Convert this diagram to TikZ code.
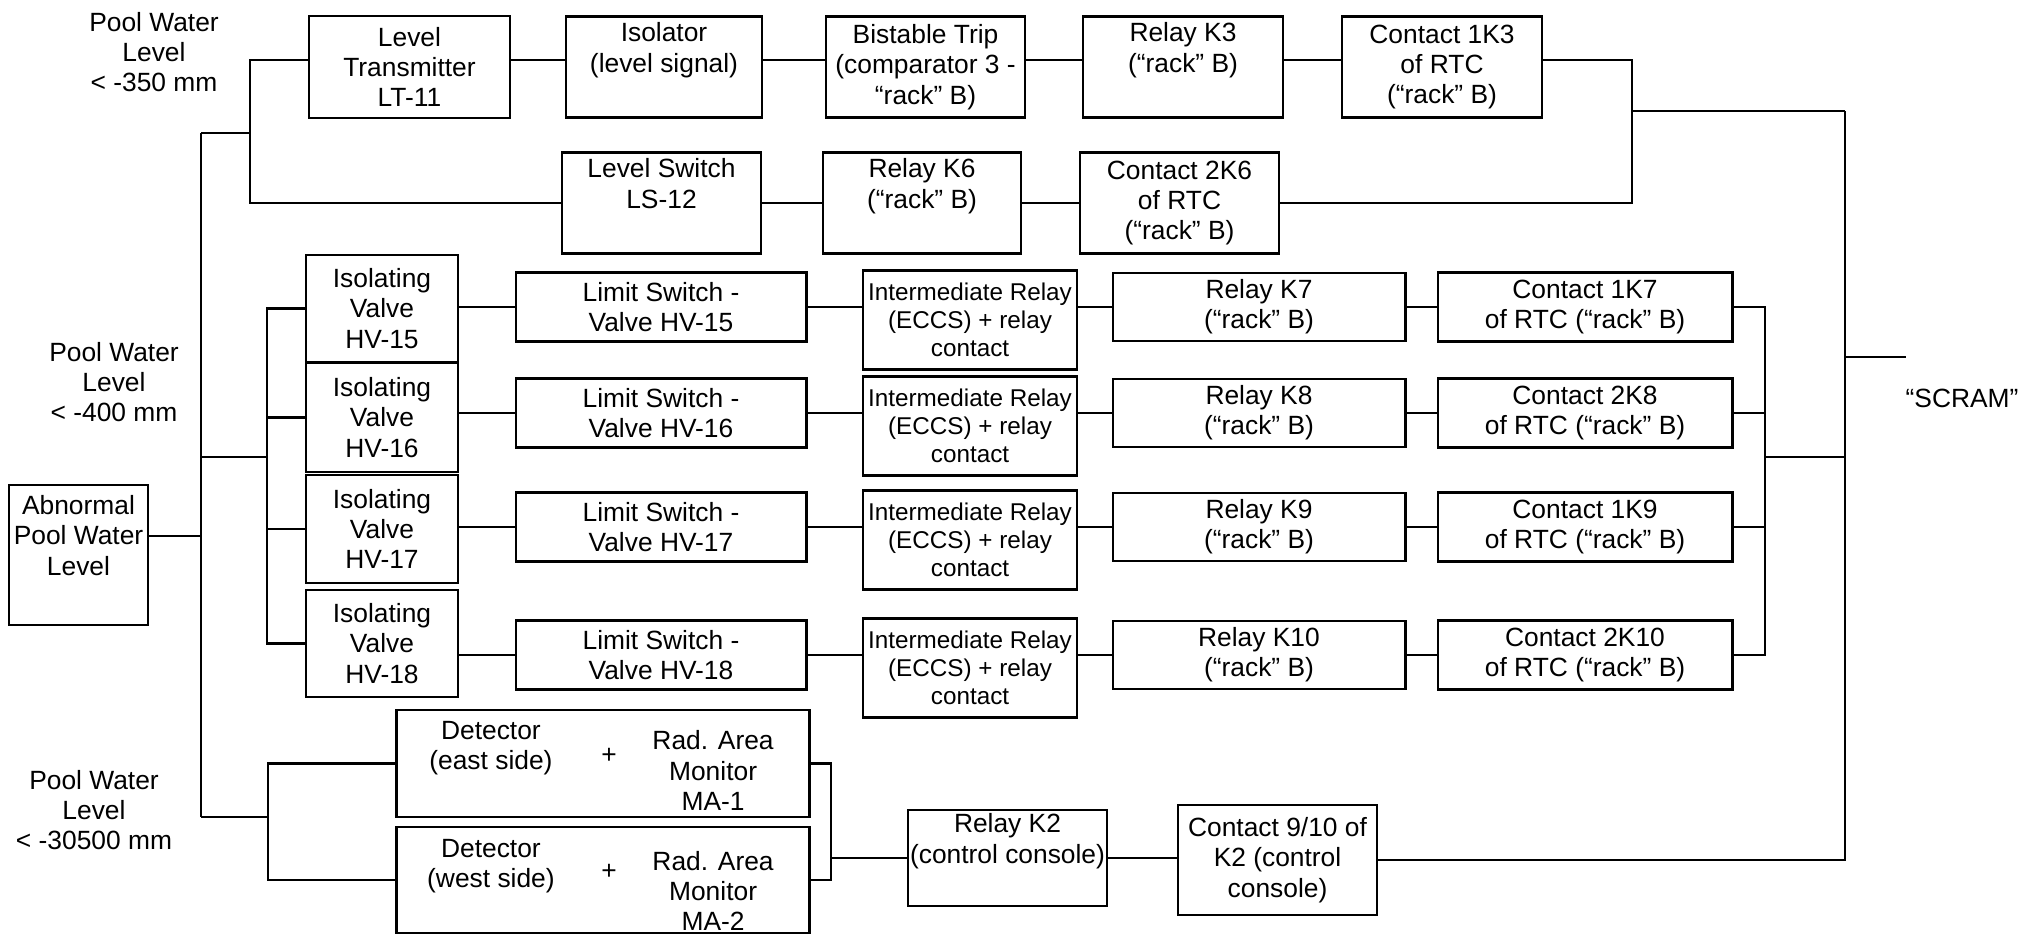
\documentclass[tikz,border=0pt]{standalone}
\usepackage{fontspec}
\setmainfont{Liberation Sans}
\newcommand{\bodyfont}{\fontsize{7.5}{8.6}\selectfont}
\newcommand{\irfont}{\fontsize{6.9}{8}\selectfont}
\tikzset{
  blk/.style={rectangle, draw, line width=0.8pt, align=center, font=\bodyfont, inner sep=0.5pt},
  wh/.style 2 args={minimum width=#1mm, minimum height=#2mm},
  lbl/.style={align=center, font=\bodyfont, inner sep=0pt},
  wire/.style={line width=0.8pt},
}

\begin{document}
\begin{tikzpicture}[x=0.01cm, y=-0.01cm]
        \useasboundingbox (0,0) rectangle (2037,936);
        \node[lbl](lvla) at (154,52){Pool Water\\Level\\< -350 mm};
        \node[lbl](lvlb) at (114,382){Pool Water\\Level\\< -400 mm};
        \node[lbl](lvlc) at (94,810){Pool Water\\Level\\< -30500 mm};
        \node[lbl](scram) at (1962,398){“SCRAM”};

        \node[blk, wh={20.1}{10.2}](lt) at (409.5,67){Level\\Transmitter\\LT-11};
        \node[blk, wh={19.6}{10.1}](iso) at (664,67){Isolator\\(level signal)\\\strut};
        \node[blk, wh={19.9}{10.1}](bis) at (925.5,67){Bistable Trip\\(comparator 3 -\\“rack” B)};
        \node[blk, wh={20}{10.1}](k3) at (1183,67){Relay K3\\(“rack” B)\\\strut};
        \node[blk, wh={20}{10.1}](c1k3) at (1442,67){Contact 1K3\\of RTC\\(“rack” B)};
        \node[blk, wh={19.9}{10.1}](ls) at (661.5,203){Level Switch\\LS-12\\\strut};
        \node[blk, wh={19.8}{10.1}](k6) at (922,203){Relay K6\\(“rack” B)\\\strut};
        \node[blk, wh={19.9}{10.1}](c2k6) at (1179.5,203){Contact 2K6\\of RTC\\(“rack” B)};

        \node[blk, wh={13.9}{14}](abn) at (78.5,555){Abnormal\\Pool Water\\Level\\\strut};
        \node[blk, wh={15.2}{10.7}](v15) at (382,308.5){Isolating\\Valve\\HV-15};
        \node[blk, wh={15.2}{10.9}](v16) at (382,417.5){Isolating\\Valve\\HV-16};
        \node[blk, wh={15.2}{10.8}](v17) at (382,529){Isolating\\Valve\\HV-17};
        \node[blk, wh={15.2}{10.7}](v18) at (382,643.5){Isolating\\Valve\\HV-18};

        \node[blk, wh={29}{6.9}](lsw15) at (661,307){Limit Switch -\\Valve HV-15};
        \node[blk, wh={29}{6.9}](lsw16) at (661,413){Limit Switch -\\Valve HV-16};
        \node[blk, wh={29}{6.9}](lsw17) at (661,527){Limit Switch -\\Valve HV-17};
        \node[blk, wh={29}{6.9}](lsw18) at (661,655){Limit Switch -\\Valve HV-18};
        \node[blk, wh={21.4}{9.9}, font=\irfont](ir15) at (970,320){Intermediate Relay\\(ECCS) + relay\\contact};
        \node[blk, wh={21.4}{9.9}, font=\irfont](ir16) at (970,426){Intermediate Relay\\(ECCS) + relay\\contact};
        \node[blk, wh={21.4}{9.9}, font=\irfont](ir17) at (970,540){Intermediate Relay\\(ECCS) + relay\\contact};
        \node[blk, wh={21.4}{9.9}, font=\irfont](ir18) at (970,668){Intermediate Relay\\(ECCS) + relay\\contact};
        \node[blk, wh={29.2}{6.8}](k7) at (1259,307){Relay K7\\(“rack” B)};
        \node[blk, wh={29.2}{6.8}](k8) at (1259,413){Relay K8\\(“rack” B)};
        \node[blk, wh={29.2}{6.8}](k9) at (1259,527){Relay K9\\(“rack” B)};
        \node[blk, wh={29.2}{6.8}](k10) at (1259,655){Relay K10\\(“rack” B)};
        \node[blk, wh={29.4}{6.9}](c1k7) at (1585,307){Contact 1K7\\of RTC (“rack” B)};
        \node[blk, wh={29.4}{6.9}](c2k8) at (1585,413){Contact 2K8\\of RTC (“rack” B)};
        \node[blk, wh={29.4}{6.9}](c1k9) at (1585,527){Contact 1K9\\of RTC (“rack” B)};
        \node[blk, wh={29.4}{6.9}](c2k10) at (1585,655){Contact 2K10\\of RTC (“rack” B)};

        \node[blk, wh={41.2}{10.7}](dete) at (603,763.5){};
        \node[lbl](detet) at ([xshift=-11.2mm,yshift=1.5mm]dete.center){Detector\\(east side)};
        \node[lbl](detep) at ([xshift=0.6mm,yshift=0.8mm]dete.center){+};
        \node[lbl](detem) at ([xshift=11mm,yshift=-0.7mm]dete.center){Rad. Area\\Monitor\\MA-1};
        \node[blk, wh={41.2}{10.6}](detw) at (603,880){};
        \node[lbl](detwt) at ([xshift=-11.2mm,yshift=1.4mm]detw.center){Detector\\(west side)};
        \node[lbl](detwp) at ([xshift=0.6mm,yshift=0.8mm]detw.center){+};
        \node[lbl](detwm) at ([xshift=11mm,yshift=-1.1mm]detw.center){Rad. Area\\Monitor\\MA-2};
        \node[blk, wh={19.9}{9.6}](k2) at (1007.5,858){Relay K2\\(control console)\\\strut};
        \node[blk, wh={19.9}{11}](c910) at (1277.5,860){Contact 9/10 of\\K2 (control\\console)};

        \coordinate(tA) at (201,133);\coordinate(tM) at (201,457);\coordinate(tB) at (201,817);
        \coordinate(bA) at (250,133);\coordinate(vA) at (267,457);\coordinate(dA) at (268,817);
        \coordinate(bR) at (1632,111);\coordinate(rM) at (1765,457);\coordinate(bk) at (831,858);
        \coordinate(sA) at (1845,111);\coordinate(sO) at (1845,357);\coordinate(sE) at (1906,357);
        \coordinate(abnout) at ([yshift=1.9mm]abn.east);

        \draw[wire](tA)--(tB);\draw[wire](tA)--(bA);\draw[wire](tM)--(vA);\draw[wire](tB)--(dA);
        \draw[wire](abnout)--(abnout -| tA);
        \draw[wire]([yshift=0.7mm]lt.west) -| (bA) |- (ls.west);
        \draw[wire]([yshift=0.7mm]lt.east)--([yshift=0.7mm]iso.west);\draw[wire]([yshift=0.7mm]iso.east)--([yshift=0.7mm]bis.west);
        \draw[wire]([yshift=0.7mm]bis.east)--([yshift=0.7mm]k3.west);\draw[wire]([yshift=0.7mm]k3.east)--([yshift=0.7mm]c1k3.west);
        \draw[wire](ls)--(k6);\draw[wire](k6)--(c2k6);
        \draw[wire]([yshift=0.7mm]c1k3.east) -| (bR);\draw[wire](c2k6.east) -| (bR);\draw[wire](bR)--(sA);

        \draw[wire](v15.west) -| (vA) |- (v18.west);\draw[wire](v16.west)--(v16.west -| vA);\draw[wire](v17.west)--(v17.west -| vA);
        \draw[wire](lsw15.west -| v15.east)--(lsw15.west);\draw[wire](lsw16.west -| v16.east)--(lsw16.west);
        \draw[wire](lsw17.west -| v17.east)--(lsw17.west);\draw[wire](lsw18.west -| v18.east)--(lsw18.west);
        \draw[wire](lsw15.east)--(lsw15.east -| ir15.west);\draw[wire](lsw16.east)--(lsw16.east -| ir16.west);
        \draw[wire](lsw17.east)--(lsw17.east -| ir17.west);\draw[wire](lsw18.east)--(lsw18.east -| ir18.west);
        \draw[wire](ir15.east |- k7.west)--(k7.west);\draw[wire](ir16.east |- k8.west)--(k8.west);
        \draw[wire](ir17.east |- k9.west)--(k9.west);\draw[wire](ir18.east |- k10.west)--(k10.west);
        \draw[wire](k7)--(c1k7);\draw[wire](k8)--(c2k8);\draw[wire](k9)--(c1k9);\draw[wire](k10)--(c2k10);
        \draw[wire](c1k7.east) -| (rM) |- (c2k10.east);\draw[wire](c2k8.east)--(c2k8.east -| rM);\draw[wire](c1k9.east)--(c1k9.east -| rM);
        \draw[wire](rM)--(rM -| sA);

        \draw[wire](dete.west) -| (dA) |- (detw.west);\draw[wire](dete.east) -| (bk) |- (detw.east);
        \draw[wire](k2.west)--(k2.west -| bk);\draw[wire](k2.east)--(k2.east -| c910.west);
        \draw[wire](sA) |- (c910.east);\draw[wire](sO)--(sE);
    \end{tikzpicture}
\end{document}
